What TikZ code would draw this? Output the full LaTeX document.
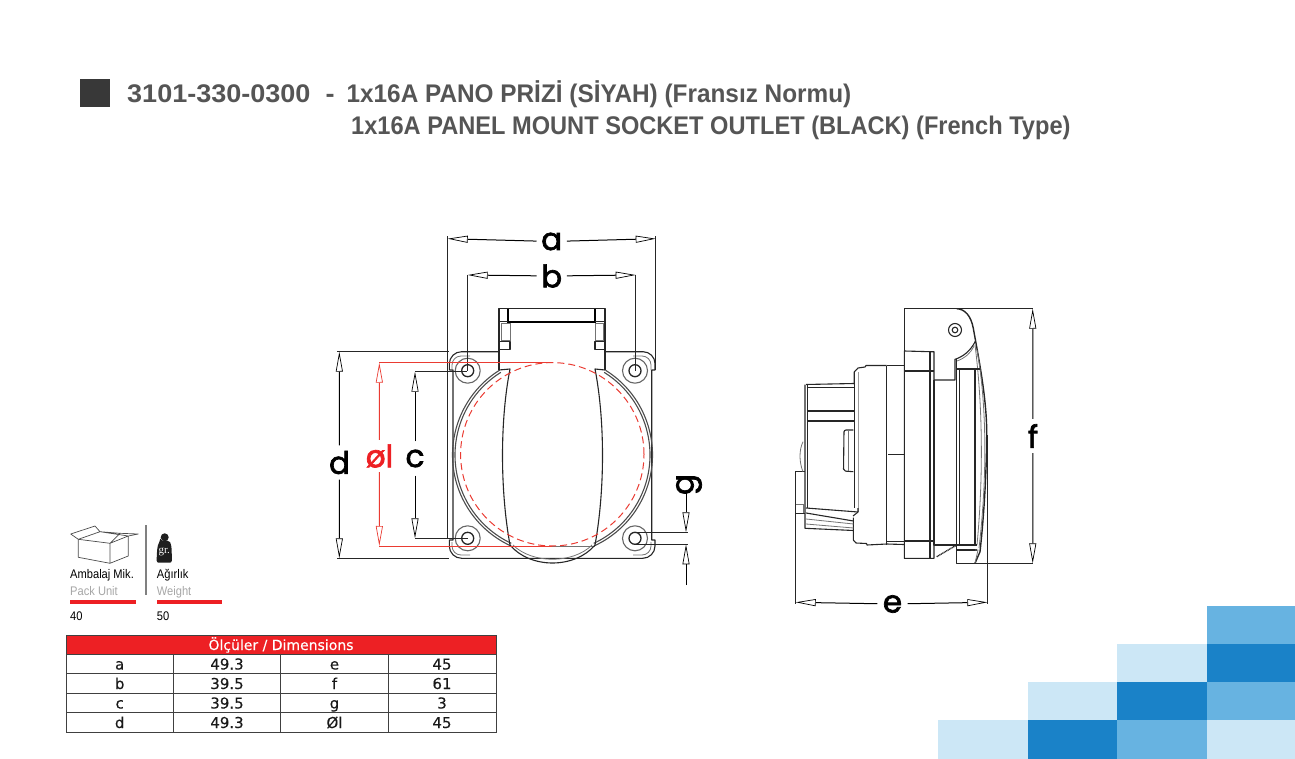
\documentclass[tikz,border=0pt]{standalone}
\usepackage{fontspec}
\setmainfont{Liberation Sans}
\newfontfamily\titlefontA[FakeStretch=1.06]{Liberation Sans}
\newfontfamily\titlefontB[FakeStretch=0.955]{Liberation Sans}
\newfontfamily\titlefontC[FakeStretch=0.926]{Liberation Sans}
\newfontfamily\dimfont[FakeBold=2.2]{Poppins}
\newfontfamily\tabfont[FakeBold=0.25]{DejaVu Sans}
\newfontfamily\narrowfont[FakeStretch=0.89]{Liberation Sans}
\newfontfamily\grfont{Liberation Serif}
\usetikzlibrary{arrows.meta}
\definecolor{tgray}{HTML}{555555}
\definecolor{tred}{HTML}{ED2024}
\definecolor{blight}{HTML}{CCE7F6}
\definecolor{bmid}{HTML}{67B3E1}
\definecolor{bdark}{HTML}{1A82C8}
\definecolor{dred}{HTML}{EA3B32}
\tikzset{
  x=1pt,y=-1pt,
  part/.style={draw=black!85,line width=1.1pt,line join=round},
  thinpart/.style={draw=black!55,line width=0.8pt},
  thick part/.style={draw=black,line width=1.7pt},
  extline/.style={draw=black!85,line width=0.9pt},
  dimline/.style={draw=black,line width=1pt,-{Triangle[length=20pt,width=7pt,fill=white,line width=0.7pt]}},
  reddim/.style={draw=dred,line width=1pt,-{Triangle[length=20pt,width=7pt,fill=white,line width=0.7pt]}},
  dimlabel/.style={inner sep=0pt,minimum width=30pt,minimum height=34pt,font=\dimfont\fontsize{31}{31}\selectfont},
  titletext/.style={anchor=base west,inner sep=0pt,text=tgray,font=\bfseries\fontsize{25.5}{25.5}\selectfont},
  cell/.style={anchor=base,inner sep=0pt,text=black!90,font=\tabfont\fontsize{15}{15}\selectfont},
  grid/.style={draw=black!75,line width=1pt},
  small/.style={anchor=base west,inner sep=0pt,font=\narrowfont\fontsize{12.5}{12.5}\selectfont},
}
\begin{document}
\begin{tikzpicture}
\useasboundingbox (0,0) rectangle (1295,759);

% ---------- decorative squares
\fill[bmid]   (1206.7,606) rectangle (1295,643.7);
\fill[blight] (1117,643.7) rectangle (1206.7,682);
\fill[bdark]  (1206.7,643.7) rectangle (1295,682);
\fill[blight] (1027.7,682) rectangle (1117,720.3);
\fill[bdark]  (1117,682) rectangle (1206.7,720.3);
\fill[bmid]   (1206.7,682) rectangle (1295,720.3);
\fill[blight] (938,720.3) rectangle (1027.7,759);
\fill[bdark]  (1027.7,720.3) rectangle (1117,759);
\fill[bmid]   (1117,720.3) rectangle (1206.7,759);
\fill[blight] (1206.7,720.3) rectangle (1295,759);

% ---------- title
\fill[black!78] (80,79) rectangle (110,106.7);
\node[titletext] (t1) at (127,102.5) {\titlefontA 3101-330-0300\ \ -\ \ \hspace{-3pt}\titlefontB 1x16A PANO PRİZİ (SİYAH) (Fransız Normu)};
\node[titletext] (t2) at (351,135) {\titlefontC 1x16A PANEL MOUNT SOCKET OUTLET (BLACK) (French Type)};

% ---------- front view
% plate
\draw[part] (449.3,370) -- (449.3,364) arc[start angle=180,end angle=90,radius=12.3pt] -- (499,351.7);
\draw[part] (605,351.7) -- (643,351.7) arc[start angle=90,end angle=0,radius=12pt] -- (655,370) -- (651.7,370) -- (651.7,540) -- (655,540) -- (655,546) arc[start angle=0,end angle=-90,radius=12.3pt] -- (461.6,558.3) arc[start angle=-90,end angle=-180,radius=12.3pt] -- (449.3,540) -- (453,540) -- (453,370) -- (449.3,370);
\draw[thinpart] (452,370) -- (452,365) arc[start angle=180,end angle=90,radius=9pt] -- (470,356);
\draw[thinpart] (633,356) -- (642,356) arc[start angle=90,end angle=0,radius=9pt] -- (651,370);
\draw[thinpart] (452,542) -- (452,546) arc[start angle=180,end angle=270,radius=9pt] -- (470,555);
\draw[thinpart] (633,555) -- (642,555) arc[start angle=-90,end angle=0,radius=9pt] -- (651,542);
% screw holes
\foreach \nm/\hx/\hy in {hA/467.7/370.7,hB/635/370.7,hC/467.7/538.3,hD/635/538.3}{
  \coordinate (\nm) at (\hx,\hy);
  \draw[part,draw=black!60] (\nm) circle[radius=12.5pt];
  \draw[part,line width=1.3pt] (\nm) circle[radius=6pt];
}
% hinge
\draw[part] (499,370) -- (499,308.3) -- (605,308.3) -- (605,370);
\draw[thick part] (508.3,309) -- (508.3,322) -- (595,322) -- (595,309);
\draw[part] (499,321.7) -- (508,321.7) (595,321.7) -- (605,321.7);
\draw[thinpart] (501.7,323.5) rectangle (510,340);
\draw[thinpart] (595,323.5) rectangle (603.3,340);
\draw[part] (499,341.7) -- (510,341.7) -- (510,349.3) -- (499,349.3);
\draw[part] (605,341.7) -- (595,341.7) -- (595,349.3) -- (605,349.3);
% housing arcs
\coordinate (cc) at (552.5,455);
\foreach \r in {100,97.5}{
  \draw[part,draw=black!70] ([shift={(122:\r pt)}]cc) arc[start angle=122,end angle=245,radius=\r pt];
  \draw[part,draw=black!70] ([shift={(58:\r pt)}]cc) arc[start angle=58,end angle=-65,radius=\r pt];
}
% flap
\draw[part] (499,370) -- (510,369) .. controls (500,420) and (500,490) .. (510,545);
\draw[part] (605,370) -- (595,369) .. controls (605,420) and (605,490) .. (595,545);
\draw[thinpart] (510,546) -- (595,546);
\draw[part] (510,545) .. controls (530,569) and (575,569) .. (595,545);
\draw[thinpart] (513,545) .. controls (532,564) and (573,564) .. (592,545);
% red circle
\draw[draw=dred,line width=1pt,dash pattern=on 7pt off 4pt] (552.3,454.3) circle[radius=91.7pt];

% front dimensions
\coordinate (aL) at (447.7,238.7);
\coordinate (aR) at (655.7,238.7);
\coordinate (aLe) at (447.7,538);
\coordinate (aRe) at (655.7,370);
\coordinate (bL) at (467.7,275);
\coordinate (bR) at (635.7,275);
\coordinate (dT) at (339.3,351.7);
\coordinate (dB) at (339.3,558.3);
\coordinate (dTe) at (337.3,351.7);
\coordinate (dBe) at (337.3,558.3);
\coordinate (cT) at (415,371.7);
\coordinate (cB) at (415,538.3);
\coordinate (lT) at (379.3,362.7);
\coordinate (lB) at (379.3,546);
\coordinate (lTe) at (552,362.7);
\coordinate (lBe) at (552,546);
\coordinate (gS) at (686,491);
\coordinate (gT) at (686,532.3);
\coordinate (gB) at (686,544.3);
\coordinate (gEnd) at (686,585);
\coordinate (gTe) at (688,532.3);
\coordinate (gBe) at (688,544.3);

\node[dimlabel] (la) at (551.7,241.5) {a};
\node[dimlabel] (lb) at (551.7,276) {b};
\node[dimlabel] (ld) at (339.5,462.5) {d};
\node[dimlabel] (lc) at (415,458.5) {c};
\node[dimlabel,text=tred,minimum height=32pt] (ll) at (379.5,456) {øl};
\node[dimlabel,rotate=90,minimum width=16pt,minimum height=28pt] (lg) at (689,484.5) {g};

\draw[extline] (aL) -- (447.7,236.5) (aL) -- (aLe) -- (453,538);
\draw[extline] (aR) -- (655.7,236.5) (aR) -- (aRe);
\draw[extline] (bL) -- (hA) (bR) -- (635.7,370.7);
\draw[extline] (dTe) -- (449.3,351.7);
\draw[extline] (dBe) -- (449.3,558.3);
\draw[extline] (cT) -- (467,371.7);
\draw[extline] (cB) -- (hC);
\draw[draw=dred,line width=1pt] (lT) -- (lTe) (lB) -- (lBe);
\draw[extline] (hD) ++(0,-6) -- (gTe);
\draw[extline] (hD) ++(0,6) -- (gBe);

\draw[dimline] (la) -- (aL);
\draw[dimline] (la) -- (aR);
\draw[dimline] (lb) -- (bL);
\draw[dimline] (lb) -- (bR);
\draw[dimline] (ld) -- (dT);
\draw[dimline] (ld) -- (dB);
\draw[dimline] (lc) -- (cT);
\draw[dimline] (lc) -- (cB);
\draw[reddim] (ll) -- (lT);
\draw[reddim] (ll) -- (lB);
\draw[dimline] (gS) -- (gT);
\draw[dimline] (gEnd) -- (gB);

% ---------- side view
\coordinate (eL) at (795.7,602.3);
\coordinate (eR) at (987.3,602.3);
\coordinate (fT) at (1032.7,308.7);
\coordinate (fB) at (1032.7,563.3);
% hinge and cover
\draw[part] (fT) -- (904.3,308.7) -- (904.3,351);
\draw[part,line width=1.4pt] (956.7,308.7) .. controls (965,309) and (971,316) .. (973.3,328.3) .. controls (979,360) and (987,400) .. (986.7,435) .. controls (986.5,480) and (983,525) .. (980,551.7) -- (975,563.3);
\draw[thinpart] (975,345) .. controls (982,400) and (984,470) .. (977,545);
\draw[thinpart] (977,350) .. controls (986,400) and (988,470) .. (979,548);
\draw[part] (975.5,341) .. controls (970,352) and (962,357) .. (955,359.3) -- (955,380) -- (934,380);
\draw[thinpart] (974,346) .. controls (970,354) and (965,358) .. (957,361);
\coordinate (pin) at (955,330);
\draw[part] (pin) circle[radius=6.5pt];
\draw[part] (pin) circle[radius=2.8pt];
% front frame
\draw[part] (956.7,359.3) -- (956.7,563.3) -- (fB);
\draw[part] (975,369) -- (975,545);
\draw[part] (956.7,369) -- (980,369);
\draw[part] (956.7,545) -- (977,545);
\draw[part] (956.7,550) -- (977,550);
\draw[part] (959.5,369) -- (959.5,545);
\draw[thinpart] (975,563) -- (978,550) -- (975,550);
% flange
\draw[part] (904.3,351) -- (930,351.7) -- (934,351.7) -- (934,558.3) -- (904.3,558.3) -- cycle;
\draw[part] (930,351.7) -- (930,558.3);
\draw[part] (904.3,371) -- (934,371);
\draw[part] (904.3,541) -- (934,541);
\draw[part] (934,380) -- (934,545) -- (956.7,545);
\draw[part,line width=1.4pt,dash pattern=on 1pt off 0.6pt] (936.7,556.7) -- (956.7,545);
% middle collar
\draw[part] (886.7,365.7) -- (904.3,365.7);
\draw[part] (886.7,541.7) -- (904.3,541.7);
\draw[part] (888,454.3) -- (904.3,454.3);
\draw[part,line width=1.5pt] (886.7,365.7) -- (886.7,545);
% round body
\draw[part] (886.7,365.5) -- (866,365.5) -- (865,367) -- (858,368) -- (854.2,372) -- (854.2,384.3);
\draw[part] (904,544.5) -- (886.7,544) -- (867,545) -- (866.5,543.5) -- (856,543) -- (853.3,540) -- (853.3,517.7);
\draw[draw=black!40,line width=1.2pt] (858.3,372) -- (858.3,512);
\draw[part] (858,508) -- (858,512) -- (853,516);
% rear body
\draw[part] (806,384.5) -- (854,383.5);
\draw[part] (806.7,387.5) -- (854,387.5);
\draw[part] (806.7,411) -- (854,411);
\draw[part] (806.7,421) -- (854,421);
\draw[part] (805,384.5) -- (805,528.3) -- (853.5,530.5);
\draw[part] (807.5,384.5) -- (807.5,508);
\draw[part] (854.2,384.3) -- (854.2,508);
\draw[part,rounded corners=2pt] (853.3,430) -- (844,430) -- (843.5,471) -- (853.3,471.7);
\draw[thinpart] (848,431) -- (848,471);
\draw[part] (806,508) -- (858,512);
\draw[part] (806,513) -- (853.5,521);
\draw[thinpart] (806,519) -- (853.5,524);
\draw[thinpart] (806,524) -- (853.5,528);
% rear tab and dome
\draw[part] (805,471.7) -- (795.7,471.7) -- (795.7,513.3) -- (805,513.3);
\draw[thinpart] (795.7,504) -- (805,504) (803,504) -- (803,513);
\draw[thinpart] (803,441.7) .. controls (799,450) and (799,462) .. (803,471.7);

% side dimensions
\node[dimlabel] (le) at (892.5,604) {e};
\node[dimlabel] (lf) at (1033,436) {f};
\draw[extline] (795.7,513.3) -- (eL) -- (795.7,604);
\draw[extline] (987.3,435) -- (eR) -- (987.3,604);
\draw[dimline] (le) -- (eL);
\draw[dimline] (le) -- (eR);
\draw[dimline] (lf) -- (fT);
\draw[dimline] (lf) -- (fB);

% ---------- pack unit block
\draw[draw=black!70,line width=0.7pt,line join=round]
  (78.3,539.3) -- (78.3,557.3) -- (110,563.3) -- (128.3,556) -- (128.3,536) -- (110,543.3) -- cycle
  (110,543.3) -- (110,563.3)
  (78.3,539.3) -- (70.7,534) -- (95,526) -- (100,531.7) -- (128.3,536) -- (138.3,534) -- (120,533.3) -- (100,531.7)
  (100,531.7) -- (78.3,539.3)
  (110,543.3) -- (120,533.3);
\draw[draw=black!50,line width=1.2pt] (146,525) -- (146,595);
\fill[black!88] (164.7,537.3) circle[radius=4pt];
\fill[black!88,rounded corners=2pt] (160.5,540.5) -- (169,540.5) .. controls (172,545) and (171.8,555) .. (171.8,562.7) -- (156.7,562.7) .. controls (156.7,555) and (157,545) .. (160.5,540.5) -- cycle;
\node[inner sep=0pt,text=white,font=\grfont\fontsize{11}{11}\selectfont] (gr) at (164.3,552) {gr.};
\node[small] (p1) at (70,578) {Ambalaj Mik.};
\node[small,text=black!35] (p2) at (70,595) {Pack Unit};
\node[small] (p3) at (70,620) {40};
\node[small] (w1) at (156.7,578) {Ağırlık};
\node[small,text=black!35] (w2) at (156.7,595) {Weight};
\node[small] (w3) at (156.7,620) {50};
\fill[tred] (70,600) rectangle (136,604);
\fill[tred] (156.7,600) rectangle (222,604);

% ---------- dimensions table
\fill[tred] (66,635) rectangle (496,654.3);
\draw[grid] (66,635) rectangle (496,732);
\draw[grid] (66,654.3) -- (496,654.3);
\draw[grid] (66,673.7) -- (496,673.7);
\draw[grid] (66,693.3) -- (496,693.3);
\draw[grid] (66,712.7) -- (496,712.7);
\draw[grid] (173.3,654.3) -- (173.3,732);
\draw[grid] (280.7,654.3) -- (280.7,732);
\draw[grid] (388.3,654.3) -- (388.3,732);
\node[cell,text=white,font=\tabfont\fontsize{14}{14}\selectfont] (hd) at (281,650) {Ölçüler / Dimensions};
\node[cell] (r1a) at (119.7,669.5) {a};
\node[cell] (r1b) at (227,669.5) {49.3};
\node[cell] (r1c) at (334.5,669.5) {e};
\node[cell] (r1d) at (442,669.5) {45};
\node[cell] (r2a) at (119.7,689) {b};
\node[cell] (r2b) at (227,689) {39.5};
\node[cell] (r2c) at (334.5,689) {f};
\node[cell] (r2d) at (442,689) {61};
\node[cell] (r3a) at (119.7,708.5) {c};
\node[cell] (r3b) at (227,708.5) {39.5};
\node[cell] (r3c) at (334.5,708.5) {g};
\node[cell] (r3d) at (442,708.5) {3};
\node[cell] (r4a) at (119.7,728) {d};
\node[cell] (r4b) at (227,728) {49.3};
\node[cell] (r4c) at (334.5,728) {Øl};
\node[cell] (r4d) at (442,728) {45};
\end{tikzpicture}
\end{document}
